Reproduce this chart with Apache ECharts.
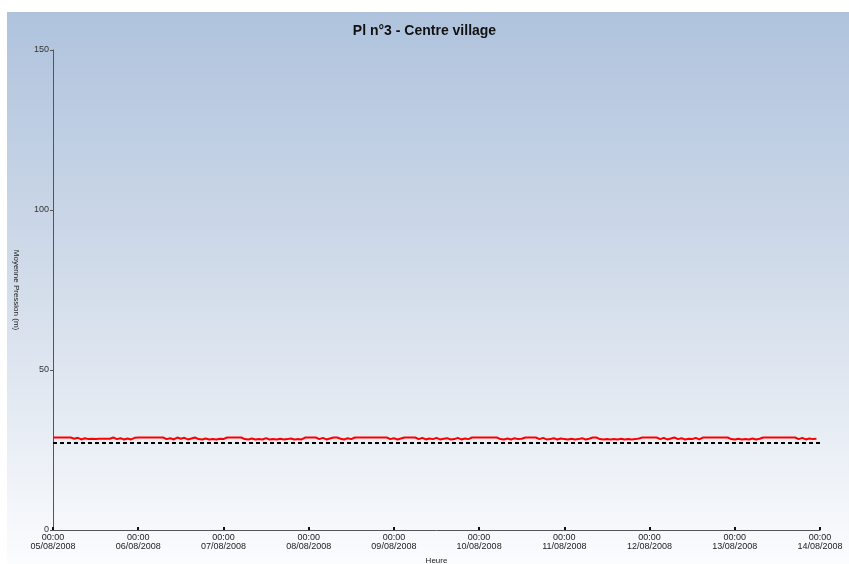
<!DOCTYPE html>
<html>
<head>
<meta charset="utf-8">
<script src="https://cdn.jsdelivr.net/npm/echarts@6/dist/echarts.min.js"></script>
<style>
  html, body { margin: 0; padding: 0; background: #fff; }
  #main { width: 849px; height: 564px; }
</style>
</head>
<body>
<div id="main"></div>
<script>
// jours affichés sur l'axe des x (un tick toutes les 24 h)
var dayLabels = ['05/08/2008', '06/08/2008', '07/08/2008', '08/08/2008', '09/08/2008',
  '10/08/2008', '11/08/2008', '12/08/2008', '13/08/2008', '14/08/2008'];

// pression moyenne horaire (m), une ligne par jour
var pression = [
  28.9,28.9,28.9,28.9,28.9,28.9,28.5,28.8,28.3,28.7,28.4,28.5,28.4,28.5,28.5,28.5,28.5,28.9,28.4,28.7,28.3,28.6,28.3,28.8,
  28.9,28.9,28.9,28.9,28.9,28.9,28.9,28.9,28.4,28.7,28.3,28.9,28.5,28.8,28.3,28.6,28.9,28.4,28.3,28.6,28.3,28.4,28.3,28.5,
  28.4,28.9,28.9,28.9,28.9,28.9,28.4,28.3,28.6,28.3,28.4,28.3,28.7,28.3,28.4,28.3,28.5,28.3,28.4,28.6,28.3,28.4,28.3,28.9,
  28.9,28.9,28.9,28.4,28.8,28.3,28.6,28.9,28.9,28.5,28.3,28.7,28.4,28.9,28.9,28.9,28.9,28.9,28.9,28.9,28.9,28.9,28.9,28.4,
  28.7,28.3,28.6,28.9,28.9,28.9,28.9,28.4,28.8,28.3,28.6,28.4,28.8,28.3,28.5,28.7,28.3,28.4,28.8,28.3,28.6,28.4,28.9,28.9,
  28.9,28.9,28.9,28.9,28.9,28.9,28.4,28.3,28.6,28.3,28.7,28.4,28.5,28.9,28.9,28.9,28.9,28.4,28.8,28.3,28.4,28.7,28.3,28.6,
  28.4,28.3,28.5,28.3,28.4,28.7,28.3,28.5,28.9,28.9,28.4,28.3,28.4,28.3,28.4,28.3,28.5,28.3,28.4,28.3,28.4,28.6,28.9,28.9,
  28.9,28.9,28.9,28.4,28.8,28.3,28.6,28.9,28.4,28.7,28.3,28.5,28.4,28.8,28.3,28.9,28.9,28.9,28.9,28.9,28.9,28.9,28.9,28.4,
  28.3,28.5,28.3,28.4,28.3,28.6,28.3,28.5,28.9,28.9,28.9,28.9,28.9,28.9,28.9,28.9,28.9,28.9,28.4,28.8,28.3,28.6,28.4,28.5
];

// consigne (ligne pointillée noire)
var consigne = 27.2;

var yTicks = [0, 50, 100, 150];

var redData = [];
pression.forEach(function (v, i) { redData.push([i, v]); });
var lastHour = (dayLabels.length - 1) * 24;

var chart = echarts.init(document.getElementById('main'));
chart.setOption({
  backgroundColor: {
    type: 'linear', x: 0, y: 0, x2: 0, y2: 1,
    colorStops: [
      { offset: 0, color: '#ffffff' },
      { offset: 0.021, color: '#ffffff' },
      { offset: 0.022, color: '#afc3dd' },
      { offset: 0.5, color: '#d2dcea' },
      { offset: 1, color: '#fbfcfe' }
    ]
  },
  graphic: [{
    type: 'rect', left: 0, top: 0, z: -10,
    shape: { width: 7, height: 564 },
    style: { fill: '#ffffff' }
  }],
  animation: false,
  title: {
    text: 'Pl n°3 - Centre village',
    left: 'center',
    top: 19,
    textStyle: { fontFamily: 'Liberation Sans', fontSize: 14, fontWeight: 'bold', color: '#111' }
  },
  grid: { left: 53, right: 29, top: 50, bottom: 34, outerBoundsMode: 'none' },
  xAxis: {
    type: 'value',
    min: 0,
    max: lastHour,
    interval: 24,
    name: 'Heure',
    nameLocation: 'middle',
    nameGap: 27,
    nameTextStyle: { fontFamily: 'Liberation Sans', fontSize: 8, color: '#222' },
    axisLine: { lineStyle: { color: '#555', width: 1 } },
    axisTick: { inside: true, length: 3, lineStyle: { color: '#111', width: 2 } },
    axisLabel: {
      fontFamily: 'Liberation Sans', fontSize: 9, color: '#222', lineHeight: 9, margin: 3,
      formatter: function (v) { return '00:00\n' + dayLabels[Math.round(v / 24)]; }
    },
    splitLine: { show: false }
  },
  yAxis: {
    type: 'value',
    min: yTicks[0],
    max: yTicks[yTicks.length - 1],
    interval: 50,
    name: 'Moyenne Pression (m)',
    nameLocation: 'middle',
    nameRotate: -90,
    nameGap: 33,
    nameTextStyle: { fontFamily: 'Liberation Sans', fontSize: 8, color: '#222' },
    axisLine: { show: true, lineStyle: { color: '#555', width: 1 } },
    axisTick: { show: true, length: 3, lineStyle: { color: '#555' } },
    axisLabel: { fontFamily: 'Liberation Sans', fontSize: 9, color: '#333', margin: 4 },
    splitLine: { show: false }
  },
  series: [
    {
      name: 'Pression',
      type: 'line',
      data: redData,
      showSymbol: false,
      lineStyle: { color: '#ff0000', width: 2 },
      z: 3
    },
    {
      name: 'Consigne',
      type: 'line',
      data: [[0, consigne], [lastHour, consigne]],
      showSymbol: false,
      lineStyle: { color: '#000', width: 2, type: [4, 3] },
      z: 2
    }
  ]
});
</script>
</body>
</html>
